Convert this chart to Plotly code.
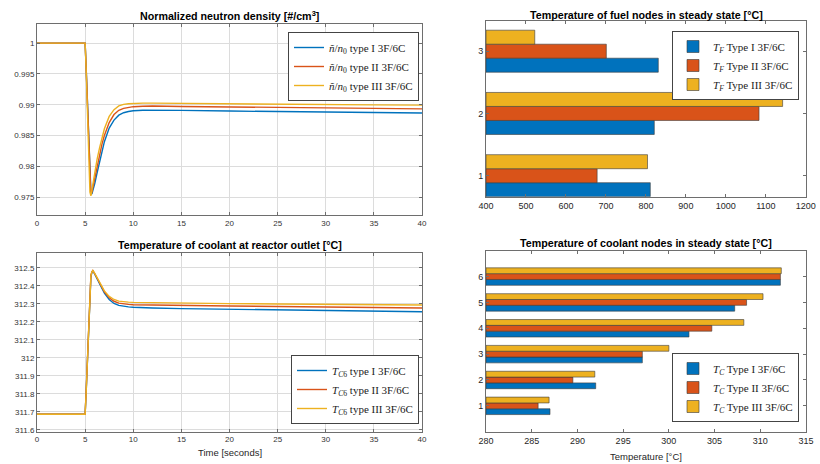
import plotly.graph_objects as go

# ---------------- data ----------------
time_s = [0, 5.0, 5.1, 5.2, 5.3, 5.4, 5.5, 5.6, 5.7, 5.8, 6.0, 6.25, 6.5, 6.75, 7.0,
          7.5, 8.0, 8.5, 9.0, 9.5, 10, 11, 12, 15, 20, 25, 30, 35, 40]

n_type1 = [1.0, 1.0, 0.9963, 0.9922, 0.9878, 0.9830, 0.9785, 0.9758, 0.9755, 0.9760, 0.9772,
           0.9790, 0.9808, 0.9825, 0.9840, 0.9862, 0.9875, 0.9883, 0.9887, 0.9889, 0.98902,
           0.9891, 0.9891, 0.98908, 0.98897, 0.98887, 0.98879, 0.98872, 0.98865]
n_type2 = [1.0, 1.0, 0.9962, 0.9919, 0.9872, 0.9820, 0.9770, 0.9754, 0.9758, 0.9766, 0.9781,
           0.9801, 0.9819, 0.9836, 0.9850, 0.9871, 0.9884, 0.9891, 0.9894, 0.98958, 0.98968,
           0.98975, 0.98978, 0.98972, 0.98963, 0.98955, 0.98948, 0.9894, 0.98933]
n_type3 = [1.0, 1.0, 0.9960, 0.9915, 0.9865, 0.9810, 0.9758, 0.9752, 0.9762, 0.9772, 0.9790,
           0.9812, 0.9830, 0.9847, 0.9861, 0.9881, 0.9892, 0.9898, 0.99005, 0.99015, 0.9902,
           0.99025, 0.99025, 0.9902, 0.99012, 0.99005, 0.99, 0.98997, 0.98994]

tc6_type1 = [311.687, 311.687, 311.80, 311.93, 312.08, 312.25, 312.40, 312.45, 312.475, 312.485,
             312.465, 312.44, 312.41, 312.385, 312.36, 312.325, 312.303, 312.292, 312.287,
             312.284, 312.282, 312.279, 312.278, 312.274, 312.27, 312.266, 312.263, 312.26, 312.257]
tc6_type2 = [311.687, 311.687, 311.81, 311.95, 312.11, 312.28, 312.42, 312.46, 312.478, 312.486,
             312.468, 312.444, 312.415, 312.39, 312.367, 312.334, 312.315, 312.305, 312.300,
             312.298, 312.296, 312.295, 312.294, 312.292, 312.289, 312.286, 312.283, 312.281, 312.278]
tc6_type3 = [311.687, 311.687, 311.80, 311.94, 312.10, 312.26, 312.41, 312.455, 312.477, 312.486,
             312.47, 312.447, 312.42, 312.395, 312.373, 312.342, 312.325, 312.316, 312.312,
             312.31, 312.309, 312.308, 312.307, 312.305, 312.302, 312.3, 312.298, 312.296, 312.294]

fuel_nodes = [1, 2, 3]
fuel_type1 = [811, 821, 831]
fuel_type2 = [678, 1083, 701]
fuel_type3 = [804, 1142, 522]

cool_nodes = [1, 2, 3, 4, 5, 6]
cool_type1 = [287.0, 292.0, 297.1, 302.2, 307.2, 312.2]
cool_type2 = [285.7, 289.5, 297.1, 304.7, 308.5, 312.2]
cool_type3 = [286.9, 291.9, 300.0, 308.2, 310.3, 312.3]

fuel_ticks = [400, 500, 600, 700, 800, 900, 1000, 1100, 1200]
cool_ticks = [280, 285, 290, 295, 300, 305, 310, 315]

type_labels = ["I", "II", "III"]
colors = ["#0072BD", "#D95319", "#EDB120"]

FUEL_BASE = 400
COOL_BASE = 280

# ---------------- figure ----------------
fig = go.Figure()

serif = "Liberation Serif"
sans = "Liberation Sans"

for ys, lab, c in zip([n_type1, n_type2, n_type3], type_labels, colors):
    fig.add_trace(go.Scatter(
        x=time_s, y=ys, mode="lines", line=dict(color=c, width=1.4),
        name=f"<i>ñ</i>/<i>n</i><sub>0</sub> type {lab} 3F/6C",
        xaxis="x", yaxis="y", legend="legend"))

for ys, lab, c in zip([tc6_type1, tc6_type2, tc6_type3], type_labels, colors):
    fig.add_trace(go.Scatter(
        x=time_s, y=ys, mode="lines", line=dict(color=c, width=1.4),
        name=f"<i>T</i><sub><i>C</i>6</sub> type {lab} 3F/6C",
        xaxis="x2", yaxis="y2", legend="legend2"))

for xs, lab, c in zip([fuel_type1, fuel_type2, fuel_type3], type_labels, colors):
    fig.add_trace(go.Bar(
        x=[v - FUEL_BASE for v in xs], y=fuel_nodes, orientation="h", base=FUEL_BASE,
        marker=dict(color=c, line=dict(color="#3a3a3a", width=0.6)),
        name=f"<i>T<sub>F</sub></i> Type {lab} 3F/6C",
        xaxis="x3", yaxis="y3", legend="legend3"))

for xs, lab, c in zip([cool_type1, cool_type2, cool_type3], type_labels, colors):
    fig.add_trace(go.Bar(
        x=[v - COOL_BASE for v in xs], y=cool_nodes, orientation="h", base=COOL_BASE,
        marker=dict(color=c, line=dict(color="#3a3a3a", width=0.6)),
        name=f"<i>T<sub>C</sub></i> Type {lab} 3F/6C",
        xaxis="x4", yaxis="y4", legend="legend4"))

W, H = 820, 464
def px_x(a, b):
    return [a / W, b / W]
def px_y(top, bot):
    return [1 - bot / H, 1 - top / H]

axcol = "#6e6e6e"
tickfont_s = dict(family=sans, size=8, color="#333333")
tickfont_b = dict(family=sans, size=9, color="#262626")
common = dict(showline=True, linecolor=axcol, linewidth=1, mirror="ticks",
              ticks="inside", ticklen=3, tickcolor=axcol, zeroline=False, automargin=False,
              ticklabeloverflow="allow")

fig.update_layout(
    template="none",
    width=W, height=H, autosize=False,
    margin=dict(l=0, r=0, t=0, b=0, pad=0),
    paper_bgcolor="white", plot_bgcolor="white",
    barmode="group", bargap=0.325, bargroupgap=0,
    xaxis=dict(domain=px_x(37, 422), range=[0, 40], dtick=5, anchor="y",
               showgrid=True, gridcolor="#dcdcdc", tickfont=tickfont_s, **common),
    yaxis=dict(domain=px_y(24, 215), range=[0.9721, 1.0031], dtick=0.005, anchor="x",
               showgrid=True, gridcolor="#dcdcdc", tickfont=tickfont_s, **common),
    xaxis2=dict(domain=px_x(37, 422), range=[0, 40], dtick=5, anchor="y2",
                showgrid=True, gridcolor="#dcdcdc", tickfont=tickfont_s, **common),
    yaxis2=dict(domain=px_y(252.7, 431.7), range=[311.59, 312.585], dtick=0.1, anchor="x2",
                showgrid=True, gridcolor="#dcdcdc", tickfont=tickfont_s, **common),
    xaxis3=dict(domain=px_x(486, 806), range=[400, 1200.5], tickvals=fuel_ticks, anchor="y3",
                showgrid=False, tickfont=tickfont_b, **common),
    yaxis3=dict(domain=px_y(20.7, 196.7), range=[0.6625, 3.49], tickvals=fuel_nodes, anchor="x3",
                showgrid=False, tickfont=tickfont_b, **common),
    xaxis4=dict(domain=px_x(486, 806), range=[280, 315], tickvals=cool_ticks, anchor="y4",
                showgrid=False, tickfont=tickfont_b, **common),
    yaxis4=dict(domain=px_y(250.7, 431.7), range=[0, 7], tickvals=cool_nodes, anchor="x4",
                showgrid=False, tickfont=tickfont_b, **common),
)

legfont = dict(family=serif, size=11, color="#222222")
legcommon = dict(bgcolor="white", bordercolor="#444444", borderwidth=1,
                 font=legfont, tracegroupgap=0, itemwidth=30)
fig.update_layout(
    legend=dict(x=419 / W, xanchor="right", y=1 - 32 / H, yanchor="top", **legcommon),
    legend2=dict(x=419 / W, xanchor="right", y=1 - 424 / H, yanchor="bottom", **legcommon),
    legend3=dict(x=799 / W, xanchor="right", y=1 - 31 / H, yanchor="top", **legcommon),
    legend4=dict(x=799 / W, xanchor="right", y=1 - 422 / H, yanchor="bottom", **legcommon),
)

titlefont = dict(family=sans, size=10.7, color="#000000")
def add_title(text, xc, yc):
    fig.add_annotation(text=f"<b>{text}</b>", x=xc / W, y=1 - yc / H, xref="paper", yref="paper",
                       xanchor="center", yanchor="middle", showarrow=False, font=titlefont)

add_title("Normalized neutron density [#/cm<sup>3</sup>]", 229.5, 16)
add_title("Temperature of coolant at reactor outlet [°C]", 229.5, 245)
add_title("Temperature of fuel nodes in steady state [°C]", 646, 15)
add_title("Temperature of coolant nodes in steady state [°C]", 646, 243)

labfont = dict(family=sans, size=9.5, color="#262626")
fig.add_annotation(text="Time [seconds]", x=229.5 / W, y=1 - 452.5 / H, xref="paper", yref="paper",
                   xanchor="center", yanchor="middle", showarrow=False, font=labfont)
fig.add_annotation(text="Temperature [°C]", x=646 / W, y=1 - 456 / H, xref="paper", yref="paper",
                   xanchor="center", yanchor="middle", showarrow=False, font=labfont)

fig.write_html("out.html", config={"displayModeBar": False},
               post_script="document.body.style.margin='0px';document.body.style.overflow='hidden';")
